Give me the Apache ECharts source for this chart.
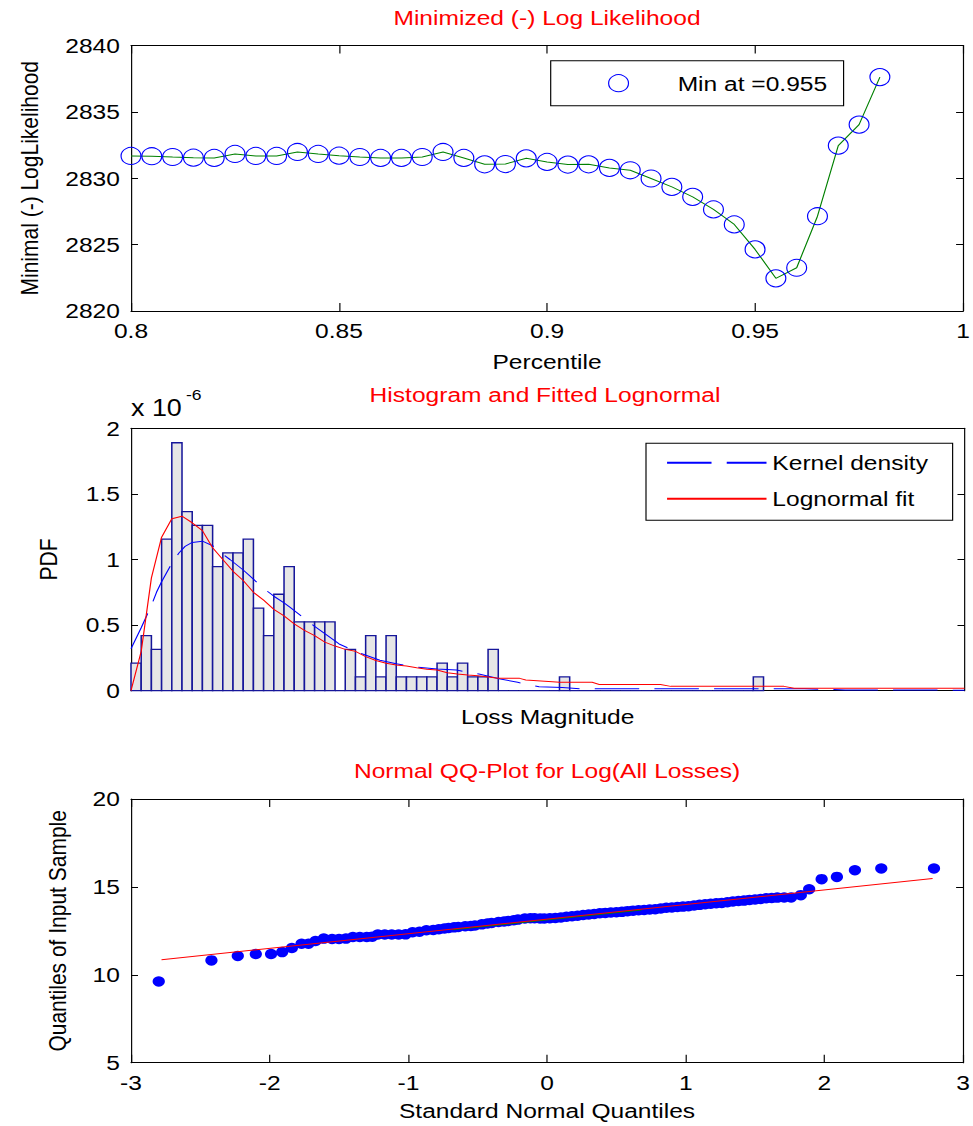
<!DOCTYPE html>
<html>
<head>
<meta charset="utf-8">
<script src="https://cdn.jsdelivr.net/npm/echarts@6.0.0/dist/echarts.min.js"></script>
<style>
  html, body { margin: 0; padding: 0; background: #fff; overflow: hidden; }
  /* the source figure is stretched horizontally, so the chart is drawn narrower and widened */
  #chart { width: 832px; height: 1126px; transform: scaleX(1.17); transform-origin: 0 0; }
</style>
</head>
<body>
<div id="chart"></div>
<script>
// ---- top: minimized (-) log likelihood vs threshold percentile ----
const percentiles = [0.800, 0.805, 0.810, 0.815, 0.820, 0.825, 0.830, 0.835, 0.840, 0.845,
  0.850, 0.855, 0.860, 0.865, 0.870, 0.875, 0.880, 0.885, 0.890, 0.895,
  0.900, 0.905, 0.910, 0.915, 0.920, 0.925, 0.930, 0.935, 0.940, 0.945,
  0.950, 0.955, 0.960, 0.965, 0.970, 0.975, 0.980];
const negLogLik = [2831.68, 2831.66, 2831.60, 2831.55, 2831.53, 2831.83, 2831.68, 2831.68, 2831.98, 2831.83,
  2831.70, 2831.60, 2831.53, 2831.53, 2831.60, 2831.98, 2831.53, 2831.05, 2831.07, 2831.50,
  2831.23, 2831.03, 2831.05, 2830.78, 2830.60, 2829.98, 2829.35, 2828.60, 2827.65, 2826.52,
  2824.64, 2822.46, 2823.26, 2827.14, 2832.46, 2834.04, 2837.62];
const minLabel = "Min at =0.955";

// ---- middle: histogram of losses (x in bin units, y in 1e-6) ----
const histCounts = [2, 4, 3, 11, 18, 13, 12, 12, 9, 10, 10, 11, 6, 4, 7, 9, 5, 5, 5, 5,
  0, 3, 1, 4, 1, 4, 1, 1, 1, 1, 2, 1, 2, 1, 1, 3, 0, 0, 0, 0,
  0, 0, 1, 0, 0, 0, 0, 0, 0, 0, 0, 0, 0, 0, 0, 0, 0, 0, 0, 0,
  0, 1];
const pdfPerCount = 0.105;
const lossAxisMax = 81.7;
const kernelX = [0, 1, 2, 2.5, 3, 4, 4.7, 5.3, 6, 7, 8, 9, 9.7, 11, 12, 13, 14, 15, 15.6, 17,
  18, 19.1, 20.4, 21.7, 22.1, 24.4, 26, 28, 30, 31.9, 33, 34.1, 36.2, 37.9, 40, 42.3, 44, 56, 66, 70, 81.7];
const kernelY = [0.32, 0.48, 0.65, 0.75, 0.83, 0.97, 1.05, 1.1, 1.13, 1.14, 1.105, 1.04, 1.0, 0.92, 0.85, 0.78, 0.72, 0.67, 0.635, 0.55,
  0.49, 0.43, 0.356, 0.31, 0.297, 0.232, 0.205, 0.18, 0.165, 0.158, 0.14, 0.127, 0.089, 0.064, 0.03, 0.025, 0.015, 0.015, 0.015, 0.006, 0.004];
const lognormX = [0, 1, 2, 3, 4, 5, 6, 7, 8, 9, 10, 11, 12, 13, 14, 15, 16, 17, 18, 19,
  20, 21, 22, 23, 24, 25, 26, 27, 28, 29, 30, 31, 32, 33, 34, 35, 36, 38.1, 38.7, 41.3,
  42, 45.2, 45.9, 51.9, 52.9, 64, 65, 81.7];
const lognormY = [0, 0.30, 0.86, 1.17, 1.31, 1.33, 1.28, 1.22, 1.09, 1.00, 0.91, 0.84, 0.75, 0.69, 0.62, 0.57, 0.51, 0.46, 0.42, 0.37,
  0.34, 0.315, 0.30, 0.26, 0.23, 0.21, 0.196, 0.188, 0.175, 0.163, 0.158, 0.137, 0.127, 0.12, 0.114, 0.105, 0.094, 0.094, 0.081, 0.069,
  0.064, 0.064, 0.048, 0.048, 0.033, 0.033, 0.018, 0.018];

// ---- bottom: normal QQ plot of log losses ----
const qqX = [-2.80, -2.42, -2.23, -2.10, -1.99, -1.91, -1.84, -1.77, -1.72, -1.67,
  -1.61, -1.55, -1.50, -1.45, -1.40, -1.35, -1.30, -1.26, -1.22, -1.17,
  -1.12, -1.07, -1.02, -0.97, -0.92, -0.87, -0.82, -0.78, -0.74, -0.71,
  -0.67, -0.64, -0.59, -0.55, -0.52, -0.47, -0.43, -0.40, -0.35, -0.31,
  -0.28, -0.24, -0.21, -0.16, -0.12, -0.09, -0.05, -0.02, 0.02, 0.06,
  0.10, 0.14, 0.18, 0.22, 0.26, 0.30, 0.34, 0.38, 0.42, 0.46,
  0.50, 0.54, 0.58, 0.62, 0.66, 0.70, 0.74, 0.78, 0.82, 0.86,
  0.90, 0.94, 0.98, 1.02, 1.06, 1.10, 1.14, 1.18, 1.22, 1.26,
  1.30, 1.34, 1.38, 1.42, 1.46, 1.50, 1.54, 1.58, 1.62, 1.66,
  1.71, 1.76, 1.83, 1.89, 1.98, 2.09, 2.22, 2.41, 2.79];
const qqY = [9.62, 10.82, 11.07, 11.18, 11.18, 11.29, 11.52, 11.77, 11.77, 11.92,
  12.06, 12.04, 12.04, 12.06, 12.15, 12.15, 12.15, 12.17, 12.29, 12.29,
  12.29, 12.29, 12.30, 12.42, 12.45, 12.53, 12.55, 12.59, 12.63, 12.66,
  12.70, 12.72, 12.76, 12.78, 12.80, 12.87, 12.92, 12.95, 13.00, 13.03,
  13.06, 13.10, 13.14, 13.20, 13.22, 13.22, 13.20, 13.20, 13.22, 13.23,
  13.26, 13.30, 13.33, 13.36, 13.40, 13.43, 13.46, 13.50, 13.52, 13.54,
  13.56, 13.58, 13.62, 13.65, 13.67, 13.69, 13.71, 13.73, 13.77, 13.81,
  13.83, 13.86, 13.88, 13.90, 13.94, 13.98, 14.01, 14.04, 14.07, 14.09,
  14.13, 14.17, 14.20, 14.22, 14.26, 14.28, 14.31, 14.35, 14.37, 14.39,
  14.40, 14.40, 14.53, 14.87, 15.44, 15.57, 15.95, 16.05, 16.05];
const refLineX = [-2.78, 2.78];
const refLineY = [10.86, 15.48];
const quartileLineX = [-0.68, 0.68];
const quartileLineY = [12.56, 13.69];

const FONT = '"Liberation Sans", Arial, Helvetica, sans-serif';
const SX = 1.17;
const hx = (v) => v / SX; // horizontal reference px -> canvas px

const zip = (xs, ys) => xs.map((x, i) => [x, ys[i]]);
const textStyle = (extra) => Object.assign({ fontFamily: FONT, fontSize: 21, color: "#000", fontWeight: "normal" }, extra);
const plainNumber = (v) => String(parseFloat(Number(v).toPrecision(10)));

function axis(kind, o) {
  const mirror = !!o.mirror;
  return {
    type: "value",
    gridIndex: o.grid,
    position: o.position,
    min: o.min,
    max: o.max,
    interval: o.interval,
    name: mirror ? "" : o.name || "",
    nameLocation: "middle",
    nameGap: o.nameGap,
    nameTextStyle: textStyle(),
    axisLine: { show: true, onZero: false, lineStyle: { color: "#000", width: 1 } },
    axisTick: { show: o.ticks !== false, inside: true, length: kind === "x" ? 8 : 6, lineStyle: { color: "#000", width: 1 } },
    axisLabel: Object.assign(textStyle(), {
      show: !mirror && o.labels !== false,
      margin: o.margin,
      showMinLabel: true,
      showMaxLabel: true,
      formatter: plainNumber,
    }),
    splitLine: { show: false },
  };
}

const gridLeft = hx(131);
const gridWidth = hx(833.5);

const chart = echarts.init(document.getElementById("chart"), null, { renderer: "svg" });

chart.setOption({
  animation: false,
  backgroundColor: "#fff",
  textStyle: { fontFamily: FONT },
  title: [
    { text: "Minimized (-) Log Likelihood", left: hx(547), top: 7, textAlign: "center", padding: 0, textStyle: textStyle({ color: "#ff0000" }) },
    { text: "Histogram and Fitted Lognormal", left: hx(545), top: 384, textAlign: "center", padding: 0, textStyle: textStyle({ color: "#ff0000" }) },
    { text: "Normal QQ-Plot for Log(All Losses)", left: hx(547), top: 760, textAlign: "center", padding: 0, textStyle: textStyle({ color: "#ff0000" }) },
    { text: "x 10", left: hx(131), top: 396, padding: 0, textStyle: textStyle({ fontSize: 23 }) },
    { text: "-6", left: hx(186), top: 387, padding: 0, textStyle: textStyle({ fontSize: 15 }) },
  ],
  legend: [
    {
      data: [minLabel],
      left: hx(550.7),
      top: 60.7,
      padding: [12, 14, 12, 49],
      itemWidth: 91,
      itemHeight: 17,
      borderColor: "#000",
      borderWidth: 1,
      backgroundColor: "#fff",
      itemStyle: { color: "rgba(0,0,0,0)", borderColor: "#0000ff", borderWidth: 1, opacity: 1 },
      textStyle: textStyle(),
      selectedMode: false,
    },
    {
      data: ["Kernel density", "Lognormal fit"],
      orient: "vertical",
      left: hx(646),
      top: 443.3,
      padding: [9, 21, 11, 17],
      itemWidth: 85,
      itemHeight: 14,
      itemGap: 15,
      borderColor: "#000",
      borderWidth: 1,
      backgroundColor: "#fff",
      itemStyle: { color: "rgba(0,0,0,0)", borderColor: "rgba(0,0,0,0)", borderWidth: 0, opacity: 0 },
      textStyle: textStyle(),
      selectedMode: false,
    },
  ],
  grid: [
    { left: gridLeft, top: 45.5, width: gridWidth, height: 265.5 },
    { left: gridLeft, top: 428.3, width: gridWidth, height: 262.4 },
    { left: gridLeft, top: 799, width: gridWidth, height: 263.7 },
  ],
  xAxis: [
    axis("x", { grid: 0, position: "bottom", min: 0.8, max: 1, interval: 0.05, name: "Percentile", nameGap: 40, margin: 9 }),
    axis("x", { grid: 0, position: "top", min: 0.8, max: 1, interval: 0.05, mirror: true }),
    axis("x", { grid: 1, position: "bottom", min: 0, max: lossAxisMax, name: "Loss Magnitude", nameGap: 15, ticks: false, labels: false }),
    axis("x", { grid: 1, position: "top", min: 0, max: lossAxisMax, mirror: true, ticks: false }),
    axis("x", { grid: 2, position: "bottom", min: -3, max: 3, interval: 1, name: "Standard Normal Quantiles", nameGap: 37, margin: 9 }),
    axis("x", { grid: 2, position: "top", min: -3, max: 3, interval: 1, mirror: true }),
  ],
  yAxis: [
    axis("y", { grid: 0, position: "left", min: 2820, max: 2840, interval: 5, name: "Minimal (-) LogLikelihood", nameGap: 76, margin: 9.5 }),
    axis("y", { grid: 0, position: "right", min: 2820, max: 2840, interval: 5, mirror: true }),
    axis("y", { grid: 1, position: "left", min: 0, max: 2, interval: 0.5, name: "PDF", nameGap: 60, margin: 9.5 }),
    axis("y", { grid: 1, position: "right", min: 0, max: 2, interval: 0.5, mirror: true }),
    axis("y", { grid: 2, position: "left", min: 5, max: 20, interval: 5, name: "Quantiles of Input Sample", nameGap: 52, margin: 9.5 }),
    axis("y", { grid: 2, position: "right", min: 5, max: 20, interval: 5, mirror: true }),
  ],
  series: [
    {
      type: "line",
      name: "Likelihood curve",
      xAxisIndex: 0,
      yAxisIndex: 0,
      data: zip(percentiles, negLogLik),
      symbol: "none",
      itemStyle: { color: "#008000" },
      lineStyle: { color: "#008000", width: 1 },
      z: 2,
    },
    {
      type: "scatter",
      name: minLabel,
      xAxisIndex: 0,
      yAxisIndex: 0,
      data: zip(percentiles, negLogLik),
      symbol: "circle",
      symbolSize: 17,
      itemStyle: { color: "rgba(0,0,0,0)", borderColor: "#0000ff", borderWidth: 1, opacity: 1 },
      z: 3,
    },
    {
      type: "custom",
      name: "Histogram",
      xAxisIndex: 2,
      yAxisIndex: 2,
      data: histCounts.map((c, k) => [k, c * pdfPerCount]),
      renderItem: (params, api) => {
        const k = api.value(0);
        const top = api.coord([k, api.value(1)]);
        const base = api.coord([k + 1, 0]);
        return {
          type: "rect",
          shape: { x: top[0], y: top[1], width: base[0] - top[0], height: base[1] - top[1] },
          style: { fill: "#e6e6e6", stroke: "#16169a", lineWidth: 1.3 },
        };
      },
      z: 1,
    },
    {
      type: "line",
      name: "Kernel density",
      xAxisIndex: 2,
      yAxisIndex: 2,
      data: zip(kernelX, kernelY),
      symbol: "none",
      itemStyle: { color: "#0000ff" },
      lineStyle: { color: "#0000ff", width: 1, type: [38, 13] },
      z: 2,
    },
    {
      type: "line",
      name: "Lognormal fit",
      xAxisIndex: 2,
      yAxisIndex: 2,
      data: zip(lognormX, lognormY),
      symbol: "none",
      itemStyle: { color: "#ff0000" },
      lineStyle: { color: "#ff0000", width: 1 },
      z: 3,
    },
    {
      type: "scatter",
      name: "Log losses",
      xAxisIndex: 4,
      yAxisIndex: 4,
      data: zip(qqX, qqY),
      symbol: "circle",
      symbolSize: 10.5,
      itemStyle: { color: "#0000ff", opacity: 1 },
      z: 1,
    },
    {
      type: "line",
      name: "Quartile line",
      xAxisIndex: 4,
      yAxisIndex: 4,
      data: zip(quartileLineX, quartileLineY),
      symbol: "none",
      itemStyle: { color: "#008000" },
      lineStyle: { color: "#008000", width: 1 },
      z: 2,
    },
    {
      type: "line",
      name: "Reference line",
      xAxisIndex: 4,
      yAxisIndex: 4,
      data: zip(refLineX, refLineY),
      symbol: "none",
      itemStyle: { color: "#ff0000" },
      lineStyle: { color: "#ff0000", width: 1 },
      z: 3,
    },
  ],
});
</script>
</body>
</html>
